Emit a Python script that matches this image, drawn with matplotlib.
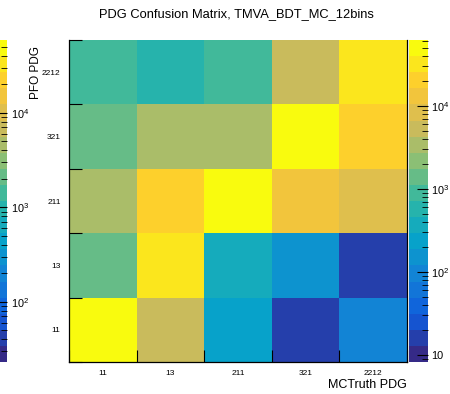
import numpy as np
import matplotlib
matplotlib.use("Agg")
import matplotlib.pyplot as plt
from matplotlib.colors import LinearSegmentedColormap, LogNorm
import matplotlib.cm as cm

plt.rcParams['font.family'] = ['Liberation Sans', 'DejaVu Sans']
plt.rcParams['mathtext.default'] = 'regular'

# bin labels (same for both axes)
pdg_labels = ["11", "13", "211", "321", "2212"]

# counts, one list per PFO PDG row (bottom -> top), columns = MCTruth PDG
row_11 = [50000, 5300, 200, 16, 90]
row_13 = [1400, 32000, 370, 130, 16]
row_211 = [3400, 20000, 50000, 13000, 8300]
row_321 = [1400, 3400, 3400, 50000, 20000]
row_2212 = [850, 570, 850, 5300, 32000]

# z range of the palette on the right, and of the leftover one on the left
z_min, z_max = 8.2, 62000
z_min_left, z_max_left = 23, 59000

counts = np.array([row_11, row_13, row_211, row_321, row_2212], dtype=float)

# ROOT kBird palette, 20 contour levels
stops = [0.0, 0.125, 0.25, 0.375, 0.5, 0.625, 0.75, 0.875, 1.0]
red = [0.2082, 0.0592, 0.0780, 0.0232, 0.1802, 0.5301, 0.8186, 0.9956, 0.9764]
green = [0.1664, 0.3599, 0.5041, 0.6419, 0.7178, 0.7492, 0.7328, 0.7862, 0.9832]
blue = [0.5293, 0.8684, 0.8385, 0.7914, 0.6425, 0.4662, 0.3499, 0.1968, 0.0539]
bird = LinearSegmentedColormap.from_list(
    "bird", list(zip(stops, zip(red, green, blue))), N=256).resampled(20)

W, H = 450, 394
fig = plt.figure(figsize=(4.5, 3.94), dpi=100)

def box(x0, y0, x1, y1):
    return [x0 / W, 1 - y1 / H, (x1 - x0) / W, (y1 - y0) / H]

ax = fig.add_axes(box(69, 40, 407, 362))
norm = LogNorm(vmin=z_min, vmax=z_max)
edges = np.arange(len(pdg_labels) + 1)
mesh = ax.pcolormesh(edges, edges, counts, cmap=bird, norm=norm,
                     edgecolors='none', antialiased=False)
ax.set_xlim(0, 5)
ax.set_ylim(0, 5)

# ticks at bin edges, labels at bin centres
ax.set_xticks(edges)
ax.set_yticks(edges)
ax.set_xticklabels([])
ax.set_yticklabels([])
centres = edges[:-1] + 0.5
ax.set_xticks(centres, minor=True)
ax.set_yticks(centres, minor=True)
ax.set_xticklabels(pdg_labels, minor=True, fontsize=6)
ax.set_yticklabels(pdg_labels, minor=True, fontsize=6)
ax.tick_params(which='major', direction='in', length=9, width=0.8, color='black')
ax.tick_params(axis='y', which='minor', length=0, pad=6)
ax.tick_params(axis='x', which='minor', length=0, pad=6)
ax.spines['top'].set_visible(False)
for s in ['left', 'bottom', 'right']:
    ax.spines[s].set_linewidth(0.9)

fig.text(236 / W, 1 - 14 / H, "PDG Confusion Matrix, TMVA_BDT_MC_12bins",
         ha='center', va='center', fontsize=9.3)
fig.text(36 / W, 1 - 46 / H, "PFO PDG", rotation=90, ha='center', va='top',
         fontsize=8.5)
fig.text(407 / W, 1 - 385 / H, "MCTruth PDG", ha='right', va='center',
         fontsize=9)

# palette on the right
cax = fig.add_axes(box(409, 40, 428, 362))
cb = fig.colorbar(mesh, cax=cax)
cb.outline.set_visible(False)
cax.set_yticks([10, 100, 1000, 10000])
cax.set_yticklabels(["10", "$10^{2}$", "$10^{3}$", "$10^{4}$"], fontsize=7.8)
cax.tick_params(which='major', direction='in', length=8, width=0.8, pad=2)
cax.tick_params(which='minor', direction='in', length=4, width=0.6)

# leftover palette, cut by the left edge
lax = fig.add_axes(box(-12, 40, 7, 362))
sm = cm.ScalarMappable(norm=LogNorm(vmin=z_min_left, vmax=z_max_left), cmap=bird)
lcb = fig.colorbar(sm, cax=lax)
lcb.outline.set_visible(False)
lax.set_yticks([100, 1000, 10000])
lax.set_yticklabels(["$10^{2}$", "$10^{3}$", "$10^{4}$"], fontsize=7.8)
lax.tick_params(which='major', direction='in', length=8, width=0.8, pad=3)
lax.tick_params(which='minor', direction='in', length=4, width=0.6)

fig.savefig("out.png", dpi=100)
